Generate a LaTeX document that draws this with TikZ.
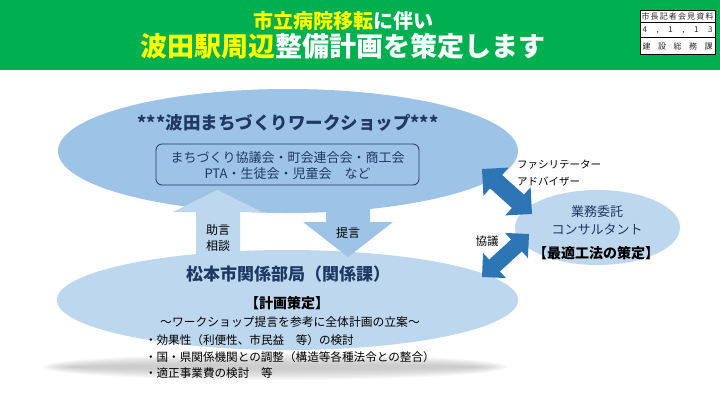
\documentclass[tikz,border=0pt]{standalone}
\usepackage{fontspec}
\usepackage{graphicx}
\setmainfont{Noto Sans CJK JP}
\usetikzlibrary{shapes.geometric,calc}
\definecolor{hgreen}{HTML}{00B050}
\definecolor{hyellow}{HTML}{FFFF00}
\definecolor{wsblue}{HTML}{9DC3E6}
\definecolor{lblue}{HTML}{BDD7EE}
\definecolor{dblue}{HTML}{2E75B6}
\definecolor{navy}{HTML}{1F3864}
\newcommand{\myfs}[1]{\fontsize{#1}{#1}\selectfont}
\newcommand{\dblarr}[5]{%
 \fill[dblue] (#1) -- ($(#1)!#3!(#2)!#4!90:(#2)$) -- ($(#1)!#3!(#2)!#5!90:(#2)$)
  -- ($(#2)!#3!(#1)!#5!-90:(#1)$) -- ($(#2)!#3!(#1)!#4!-90:(#1)$) -- (#2)
  -- ($(#2)!#3!(#1)!#4!90:(#1)$) -- ($(#2)!#3!(#1)!#5!90:(#1)$)
  -- ($(#1)!#3!(#2)!#5!-90:(#2)$) -- ($(#1)!#3!(#2)!#4!-90:(#2)$) -- cycle;}
\begin{document}
\begin{tikzpicture}[x=1pt,y=-1pt,
  every node/.style={inner sep=0pt, outer sep=0pt},
  blob/.style={ellipse, draw=none, inner sep=0pt},
  lbl/.style={font=\myfs{12}, text=black},
  navytxt/.style={text=navy},
  bullet/.style={anchor=west, font=\myfs{11.6}, text=black},
  stamptxt/.style={font=\myfs{8}, text=black!85}]
\useasboundingbox (0,0) rectangle (720,405);
\fill[white] (0,0) rectangle (720,405);
% header
\fill[hgreen] (0,0) rectangle (720,70);
\node[font=\bfseries\myfs{20}] (t1) at (343,21) {\textcolor{hyellow}{市立病院移転}\textcolor{white}{に伴い}};
\node[font=\bfseries\myfs{27}] (t2) at (343,46) {\textcolor{hyellow}{波田駅周辺}\textcolor{white}{整備計画を策定します}};
% stamp
\node[draw=black, fill=white, line width=0.5pt, minimum width=75pt, minimum height=44pt] (stamp) at (677.5,32) {};
\draw[line width=0.5pt] (640,22.5) -- (715,22.5);
\draw[line width=0.5pt] (640,37.5) -- (715,37.5);
\node[stamptxt] (s1) at (677.5,16.5) {\makebox[72pt][s]{市\hfill 長\hfill 記\hfill 者\hfill 会\hfill 見\hfill 資\hfill 料}};
\node[stamptxt] (s2) at (677.5,30) {\makebox[70pt][s]{4\hfill ,\hfill 1\hfill ,\hfill 1\hfill 3}};
\node[stamptxt] (s3) at (677.5,46) {\makebox[70pt][s]{建\hfill 設\hfill 総\hfill 務\hfill 課}};
% shadow
\foreach \i in {0,...,7} {
  \pgfmathsetmacro{\shrx}{232-4*\i}
  \pgfmathsetmacro{\shry}{13-1.4*\i}
  \fill[black!40, opacity=0.075] (275,367) ellipse [x radius=\shrx pt, y radius=\shry pt];
}
% ellipses
\node[blob, fill=wsblue, minimum width=460pt, minimum height=124pt] (ws) at (288,151) {};
\node[blob, fill=lblue, minimum width=461pt, minimum height=100pt] (city) at (287.5,300) {};
\node[blob, fill=lblue, minimum width=165pt, minimum height=75pt] (cons) at (597.5,227.5) {};
% up arrow
\coordinate (upTip) at (217.5,190);
\fill[lblue] (upTip) -- ($(upTip)+(44.5,22)$) -- ($(upTip)+(22.5,22)$) -- ($(upTip)+(22.5,70)$)
  -- ($(upTip)+(-21.5,70)$) -- ($(upTip)+(-21.5,22)$) -- ($(upTip)+(-44.5,22)$) -- cycle;
% down arrow
\coordinate (dnTip) at (348,257);
\fill[wsblue] (dnTip) -- ($(dnTip)+(45,-35)$) -- ($(dnTip)+(22,-35)$) -- ($(dnTip)+(22,-57)$)
  -- ($(dnTip)+(-22,-57)$) -- ($(dnTip)+(-22,-35)$) -- ($(dnTip)+(-45,-35)$) -- cycle;
% double arrows
\coordinate (fa1) at (482,169);
\coordinate (fa2) at (532,214);
\dblarr{fa1}{fa2}{19pt}{19pt}{9pt}
\coordinate (kg1) at (529,234);
\coordinate (kg2) at (482,277);
\dblarr{kg1}{kg2}{17pt}{17pt}{8pt}
% workshop texts
\node[navytxt, font=\bfseries\myfs{17.5}] (wstitle) at (288,123) {***波田まちづくりワークショップ***};
\node[draw=navy, line width=0.8pt, rounded corners=6pt, minimum width=263pt, minimum height=41pt] (wsbox) at (287.5,164.5) {};
\node[navytxt, font=\myfs{13}] (wsl1) at (287.5,157.5) {まちづくり協議会・町会連合会・商工会};
\node[navytxt, font=\myfs{13}] (wsl2) at (287.5,174) {PTA・生徒会・児童会　など};
% arrow labels
\node[lbl] (jogen) at (218,230) {助言};
\node[lbl] (sodan) at (218,246) {相談};
\node[lbl] (teigen) at (348,233) {提言};
% city texts
\node[navytxt, font=\bfseries\myfs{17}] (citytitle) at (288,274) {松本市関係部局（関係課）};
\node[font=\bfseries\myfs{14}] (keikaku) at (287,303) {【計画策定】};
\node[font=\myfs{11.8}] (ritsuan) at (290,322) {～ワークショップ提言を参考に全体計画の立案～};
\node[bullet] (b1) at (145,340) {・効果性（利便性、市民益　等）の検討};
\node[bullet] (b2) at (145,357) {・国・県関係機関との調整（構造等各種法令との整合）};
\node[bullet] (b3) at (145,373) {・適正事業費の検討　等};
% consultant texts
\node[navytxt, font=\myfs{13}] (c1) at (597,212) {業務委託};
\node[navytxt, font=\myfs{13}] (c2) at (597,230) {コンサルタント};
\node[font=\bfseries\myfs{14}] (c3) at (596,253) {【最適工法の策定】};
% side labels
\node[anchor=west, font=\myfs{10.5}] (fa) at (517,165) {ファシリテーター};
\node[anchor=west, font=\myfs{10.5}] (ad) at (517,182) {アドバイザー};
\node[font=\myfs{11.5}] (kyogi) at (487,241) {協議};
\end{tikzpicture}
\end{document}
